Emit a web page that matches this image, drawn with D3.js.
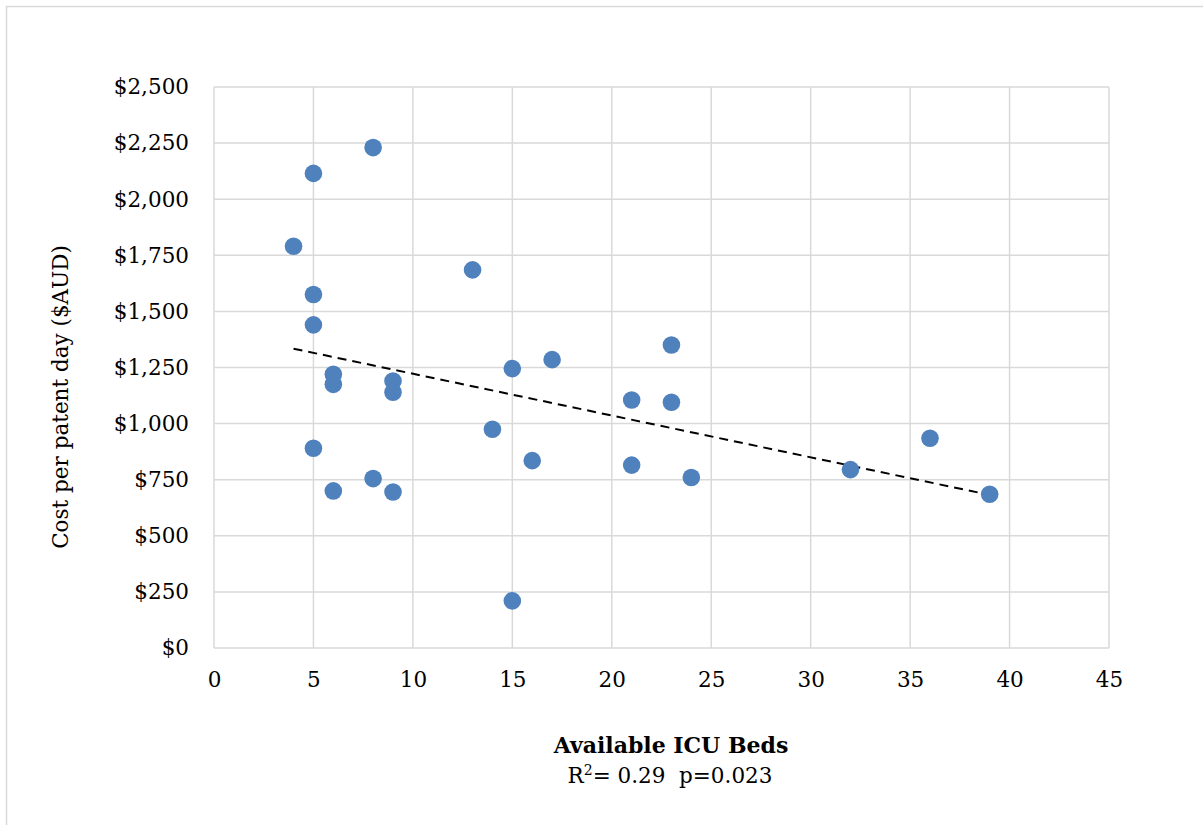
<!DOCTYPE html>
<html>
<head>
<meta charset="utf-8">
<script src="https://d3js.org/d3.v7.min.js"></script>
<style>
  body { margin: 0; background: #fff; }
  svg text { font-family: "DejaVu Serif", serif; fill: #000; }
</style>
</head>
<body>
<div id="chart"></div>
<script>
// Data
const beds = [4, 5, 8, 5, 5, 13, 6, 6, 9, 9, 15, 17, 23, 21, 23, 14, 5, 16, 21, 24, 32, 36, 39, 8, 6, 9, 15];
const cost = [1790, 2115, 2230, 1575, 1440, 1685, 1220, 1175, 1190, 1140, 1245, 1285, 1350, 1105, 1095, 975, 890, 835, 815, 760, 795, 935, 685, 755, 700, 695, 210];
const xTicks = [0, 5, 10, 15, 20, 25, 30, 35, 40, 45];
const yTicks = [0, 250, 500, 750, 1000, 1250, 1500, 1750, 2000, 2250, 2500];

const width = 1203;
const height = 825;
const margin = { top: 87, right: 94, bottom: 177, left: 214 };

const svg = d3.select("#chart").append("svg")
  .attr("width", width)
  .attr("height", height);

// outer frame
svg.append("rect")
  .attr("x", 6.5).attr("y", 6.5)
  .attr("width", 1210).attr("height", 840)
  .attr("fill", "none")
  .attr("stroke", "#d9d9d9")
  .attr("stroke-width", 1.5);

const x = d3.scaleLinear().domain([0, 45]).range([margin.left, width - margin.right]);
const y = d3.scaleLinear().domain([0, 2500]).range([height - margin.bottom, margin.top]);

// gridlines
svg.append("g").selectAll("line")
  .data(yTicks).enter().append("line")
  .attr("x1", x(0)).attr("x2", x(45))
  .attr("y1", d => y(d)).attr("y2", d => y(d))
  .attr("stroke", "#d9d9d9").attr("stroke-width", 1.5);

svg.append("g").selectAll("line")
  .data(xTicks).enter().append("line")
  .attr("y1", y(0)).attr("y2", y(2500))
  .attr("x1", d => x(d)).attr("x2", d => x(d))
  .attr("stroke", "#d9d9d9").attr("stroke-width", 1.5);

// axes labels
const xAxis = svg.append("g")
  .attr("transform", `translate(0,${y(0)})`)
  .call(d3.axisBottom(x).tickValues(xTicks).tickSize(0).tickPadding(24));
xAxis.select(".domain").remove();
xAxis.selectAll("text")
  .style("font-family", "DejaVu Serif")
  .style("font-size", "21.5px");

const yAxis = svg.append("g")
  .attr("transform", `translate(${x(0)},0)`)
  .call(d3.axisLeft(y).tickValues(yTicks).tickSize(0).tickPadding(25)
    .tickFormat(d => "$" + d3.format(",")(d)));
yAxis.select(".domain").remove();
yAxis.selectAll("text")
  .style("font-family", "DejaVu Serif")
  .style("font-size", "21.5px");

// trendline (least squares)
const n = beds.length;
const mx = d3.mean(beds), my = d3.mean(cost);
let sxy = 0, sxx = 0;
for (let i = 0; i < n; i++) {
  sxy += (beds[i] - mx) * (cost[i] - my);
  sxx += (beds[i] - mx) ** 2;
}
const slope = sxy / sxx;
const intercept = my - slope * mx;
const [xmin, xmax] = d3.extent(beds);

svg.append("line")
  .attr("x1", x(xmin)).attr("y1", y(intercept + slope * xmin))
  .attr("x2", x(xmax)).attr("y2", y(intercept + slope * xmax))
  .attr("stroke", "#000")
  .attr("stroke-width", 2)
  .attr("stroke-dasharray", "9,6");

// points
svg.append("g").selectAll("circle")
  .data(beds.map((b, i) => ({ b, c: cost[i] })))
  .enter().append("circle")
  .attr("cx", d => x(d.b))
  .attr("cy", d => y(d.c))
  .attr("r", 8.8)
  .attr("fill", "#4f81bd");

// axis titles
svg.append("text")
  .attr("transform", `translate(68,397) rotate(-90)`)
  .attr("text-anchor", "middle")
  .style("font-size", "21.5px")
  .text("Cost per patent day ($AUD)");

svg.append("text")
  .attr("x", 671).attr("y", 753)
  .attr("text-anchor", "middle")
  .style("font-size", "22px")
  .style("font-weight", "bold")
  .text("Available ICU Beds");

const stat = svg.append("text")
  .attr("x", 670).attr("y", 783)
  .attr("text-anchor", "middle")
  .style("font-size", "21.5px");
stat.append("tspan").text("R");
stat.append("tspan").attr("dy", -8).style("font-size", "14px").text("2");
stat.append("tspan").attr("dy", 8).text("= 0.29\u00a0\u00a0p=0.023");
</script>
</body>
</html>
